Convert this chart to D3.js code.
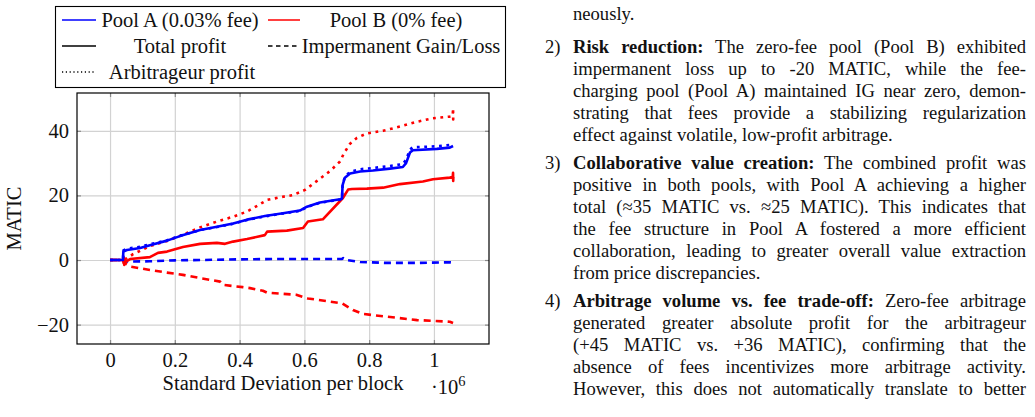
<!DOCTYPE html>
<html><head><meta charset="utf-8">
<script src="https://cdn.jsdelivr.net/npm/d3@7"></script>
<style>
html,body{margin:0;padding:0;background:#fff;}
body{width:1035px;height:417px;overflow:hidden;position:relative;font-family:"Liberation Serif","Times New Roman",serif;}
svg{position:absolute;left:0;top:0;}
.col{position:absolute;left:0;top:0;}
.ln{position:absolute;left:573px;width:453px;height:22px;line-height:22px;font-size:18.6px;white-space:nowrap;text-align:justify;text-align-last:justify;color:#111;}
.ln.last{text-align:left;text-align-last:left;}
.num{position:absolute;left:545px;height:22px;line-height:22px;font-size:18.6px;color:#111;}
</style></head><body>
<script>
// ---------- data (x in units of 10^6, y in MATIC) ----------
const xTickValues = [0, 0.2, 0.4, 0.6, 0.8, 1];
const xTickLabels = ["0", "0.2", "0.4", "0.6", "0.8", "1"];
const yTickValues = [-20, 0, 20, 40];
const yTickLabels = ["\u221220", "0", "20", "40"];

const totalA = [[0,0],[0.040,0],[0.041,2.6],[0.052,3.1],[0.093,3.7],[0.123,4.6],[0.176,6.0],[0.216,7.4],[0.278,9.3],[0.330,10.3],[0.380,11.3],[0.423,12.5],[0.478,13.6],[0.534,14.5],[0.586,15.3],[0.608,16.5],[0.648,17.8],[0.710,18.8],[0.716,19.0],[0.718,23.2],[0.725,25.5],[0.741,26.8],[0.772,27.4],[0.812,27.7],[0.864,28.3],[0.904,28.8],[0.914,30.0],[0.926,33.3],[0.935,34.0],[1.009,34.4],[1.049,34.8],[1.059,35.3]];
const arbA = [[0,0],[0.040,0],[0.041,3.0],[0.052,3.5],[0.093,4.1],[0.123,4.9],[0.176,6.1],[0.216,7.5],[0.278,9.3],[0.330,10.2],[0.380,11.2],[0.423,12.4],[0.478,13.5],[0.534,14.4],[0.586,15.2],[0.608,16.4],[0.648,17.7],[0.710,18.7],[0.716,18.9],[0.718,23.3],[0.725,25.8],[0.741,27.3],[0.772,28.1],[0.812,28.5],[0.864,29.1],[0.904,29.7],[0.914,31.0],[0.926,34.2],[0.935,34.9],[1.009,35.2],[1.049,35.6],[1.059,36.0]];
const igA = [[0,0],[0.040,0],[0.043,-0.5],[0.123,-0.4],[0.200,-0.1],[0.278,0],[0.400,0.2],[0.500,0.3],[0.600,0.3],[0.716,0.3],[0.720,0.6],[0.725,0.1],[0.772,-0.6],[0.850,-0.9],[0.950,-0.9],[1.049,-0.7],[1.059,-0.8]];

const totalB = [[0,0],[0.040,0],[0.042,-1.0],[0.043,0.8],[0.044,-1.5],[0.049,-0.5],[0.062,0.3],[0.123,0.9],[0.148,2.2],[0.176,2.6],[0.225,4.0],[0.278,5.0],[0.330,5.3],[0.355,5.0],[0.380,5.7],[0.423,6.5],[0.478,7.7],[0.485,8.8],[0.546,9.1],[0.596,9.9],[0.604,11.0],[0.611,11.9],[0.657,12.6],[0.719,19.2],[0.735,21.8],[0.747,22.0],[0.793,22.1],[0.843,22.4],[0.895,23.5],[0.966,24.3],[0.997,25.0],[1.049,25.5],[1.058,25.7],[1.059,27.0],[1.0595,24.5],[1.060,25.7]];
const arbB = [[0,0],[0.040,0],[0.052,0.5],[0.071,1.8],[0.123,4.3],[0.176,5.9],[0.225,7.8],[0.278,10.1],[0.330,11.9],[0.380,13.4],[0.423,15.0],[0.455,16.8],[0.485,18.6],[0.534,19.6],[0.565,20.1],[0.602,21.7],[0.639,24.5],[0.679,27.5],[0.710,30.5],[0.722,33.0],[0.741,36.0],[0.762,37.8],[0.793,39.2],[0.843,40.0],[0.895,41.3],[0.948,42.8],[0.997,43.9],[1.049,44.4],[1.058,44.6],[1.059,47.0],[1.0595,43.5],[1.060,45.0]];
const igB = [[0,0],[0.040,0],[0.046,-1.0],[0.062,-2.0],[0.123,-3.1],[0.176,-3.9],[0.225,-4.6],[0.278,-5.6],[0.340,-6.7],[0.349,-7.7],[0.410,-8.4],[0.432,-8.7],[0.472,-9.5],[0.485,-10.1],[0.577,-10.8],[0.611,-11.9],[0.716,-13.4],[0.750,-15.5],[0.781,-16.7],[0.843,-17.4],[0.948,-18.6],[1.049,-19.1],[1.059,-19.5]];

const legendRow1 = ["Pool A (0.03% fee)", "Pool B (0% fee)"];
const legendRow2 = ["Total profit", "Impermanent Gain/Loss"];
const legendRow3 = ["Arbitrageur profit"];
const xLabel = "Standard Deviation per block";
const yLabel = "MATIC";

const textLines = [
  {y:14, html:"neously.", last:true},
  {y:47, num:"2)", html:"<b>Risk reduction:</b> The zero-fee pool (Pool B) exhibited"},
  {y:69, html:"impermanent loss up to -20 MATIC, while the fee-"},
  {y:91, html:"charging pool (Pool A) maintained IG near zero, demon-"},
  {y:113, html:"strating that fees provide a stabilizing regularization"},
  {y:135, html:"effect against volatile, low-profit arbitrage.", last:true},
  {y:163, num:"3)", html:"<b>Collaborative value creation:</b> The combined profit was"},
  {y:185, html:"positive in both pools, with Pool A achieving a higher"},
  {y:207, html:"total (\u224835 MATIC vs. \u224825 MATIC). This indicates that"},
  {y:229, html:"the fee structure in Pool A fostered a more efficient"},
  {y:251, html:"collaboration, leading to greater overall value extraction"},
  {y:273, html:"from price discrepancies.", last:true},
  {y:301, num:"4)", html:"<b>Arbitrage volume vs. fee trade-off:</b> Zero-fee arbitrage"},
  {y:323, html:"generated greater absolute profit for the arbitrageur"},
  {y:345, html:"(+45 MATIC vs. +36 MATIC), confirming that the"},
  {y:367, html:"absence of fees incentivizes more arbitrage activity."},
  {y:389, html:"However, this does not automatically translate to better"}
];

// ---------- layout ----------
const W = 1035, H = 417;
const L = 77, R = 489, T = 93, B = 344;
const FONT = '"Liberation Serif","Times New Roman",serif';
const FS = 20.5;
const svg = d3.select("body").append("svg").attr("width", W).attr("height", H);

const x = d3.scaleLinear().domain([-0.102, 1.17]).range([L, R]);
const y = d3.scaleLinear().domain([-26, 51.7]).range([B, T]);

// grid
const gridX = svg.append("g").attr("transform", `translate(0,${B})`)
  .call(d3.axisBottom(x).tickValues(xTickValues).tickSize(-(B - T)).tickFormat(""));
gridX.select(".domain").remove();
gridX.selectAll("line").attr("stroke", "#d2d2d2").attr("stroke-width", 1.2);
const gridY = svg.append("g").attr("transform", `translate(${L},0)`)
  .call(d3.axisLeft(y).tickValues(yTickValues).tickSize(-(R - L)).tickFormat(""));
gridY.select(".domain").remove();
gridY.selectAll("line").attr("stroke", "#d2d2d2").attr("stroke-width", 1.2);

// tick marks (inside, on all four sides)
function styleTicks(g){ g.select(".domain").remove(); g.selectAll("line").attr("stroke","#8a8a8a").attr("stroke-width",1.2); }
svg.append("g").attr("transform", `translate(0,${B})`).call(d3.axisBottom(x).tickValues(xTickValues).tickSize(-4).tickFormat("")).call(styleTicks);
svg.append("g").attr("transform", `translate(0,${T})`).call(d3.axisTop(x).tickValues(xTickValues).tickSize(-4).tickFormat("")).call(styleTicks);
svg.append("g").attr("transform", `translate(${L},0)`).call(d3.axisLeft(y).tickValues(yTickValues).tickSize(-4).tickFormat("")).call(styleTicks);
svg.append("g").attr("transform", `translate(${R},0)`).call(d3.axisRight(y).tickValues(yTickValues).tickSize(-4).tickFormat("")).call(styleTicks);

// tick labels
const xl = svg.append("g").attr("transform", `translate(0,${B})`)
  .call(d3.axisBottom(x).tickValues(xTickValues).tickSize(0).tickPadding(8).tickFormat((d,i)=>xTickLabels[i]));
xl.select(".domain").remove();
xl.selectAll("text").attr("font-family", FONT).attr("font-size", FS).attr("fill", "#111");
const yl = svg.append("g").attr("transform", `translate(${L},0)`)
  .call(d3.axisLeft(y).tickValues(yTickValues).tickSize(0).tickPadding(8).tickFormat((d,i)=>yTickLabels[i]));
yl.select(".domain").remove();
yl.selectAll("text").attr("font-family", FONT).attr("font-size", FS).attr("fill", "#111");

// lines
const line = d3.line().x(d => x(d[0])).y(d => y(d[1]));
const series = [
  {data: igA, color: "#0000ff", dash: "7,5"},
  {data: igB, color: "#ff0000", dash: "7,5"},
  {data: arbB, color: "#ff0000", dash: "2.8,4.6"},
  {data: totalB, color: "#ff0000", dash: null},
  {data: totalA, color: "#0000ff", dash: null},
  {data: arbA, color: "#0000ff", dash: "2.8,4.6"}
];
const plot = svg.append("g");
series.forEach(s => {
  plot.append("path").attr("d", line(s.data)).attr("fill", "none")
    .attr("stroke", s.color).attr("stroke-width", 2.6)
    .attr("stroke-linejoin", "round")
    .attr("stroke-dasharray", s.dash);
});

// frame
svg.append("rect").attr("x", L).attr("y", T).attr("width", R - L).attr("height", B - T)
  .attr("fill", "none").attr("stroke", "#000").attr("stroke-width", 1.2);

// axis labels
svg.append("text").attr("x", (L + R) / 2).attr("y", 390).attr("text-anchor", "middle")
  .attr("font-family", FONT).attr("font-size", FS).attr("fill", "#111").text(xLabel);
const e6 = svg.append("text").attr("x", 431).attr("y", 394).attr("font-family", FONT).attr("font-size", FS).attr("fill", "#111");
e6.append("tspan").text("\u00b710");
e6.append("tspan").attr("font-size", 14.5).attr("dy", -8).text("6");
svg.append("text").attr("transform", `translate(21,${(T + B) / 2}) rotate(-90)`).attr("text-anchor", "middle")
  .attr("font-family", FONT).attr("font-size", FS).attr("fill", "#111").text(yLabel);

// legend
const lg = svg.append("g");
lg.append("rect").attr("x", 55.5).attr("y", 6.5).attr("width", 450).attr("height", 81)
  .attr("fill", "#fff").attr("stroke", "#000").attr("stroke-width", 1.1);
const rows = [20, 46, 72];
const c1 = [62, 96], c2 = [268, 300];
function sample(xs, yy, color, dash){
  lg.append("line").attr("x1", xs[0]).attr("x2", xs[1]).attr("y1", yy).attr("y2", yy)
    .attr("stroke", color).attr("stroke-width", 1.5).attr("stroke-dasharray", dash);
}
function ltext(cx, yy, t){
  lg.append("text").attr("x", cx).attr("y", yy).attr("dy", "0.33em").attr("text-anchor", "middle")
    .attr("font-family", FONT).attr("font-size", FS).attr("fill", "#111").text(t);
}
sample(c1, rows[0], "#0000ff", null); ltext(180, rows[0], legendRow1[0]);
sample(c2, rows[0], "#ff0000", null); ltext(396, rows[0], legendRow1[1]);
sample(c1, rows[1], "#000", null); ltext(180, rows[1], legendRow2[0]);
sample(c2, rows[1], "#000", "4.5,3.5"); ltext(401, rows[1], legendRow2[1]);
sample(c1, rows[2], "#000", "1.2,2.6"); ltext(182, rows[2], legendRow3[0]);

// text column
const col = d3.select("body").append("div").attr("class", "col");
textLines.forEach(l => {
  col.append("div").attr("class", "ln" + (l.last ? " last" : "")).style("top", (l.y - 11) + "px").html(l.html);
  if (l.num) col.append("div").attr("class", "num").style("top", (l.y - 11) + "px").text(l.num);
});
</script>
</body></html>
